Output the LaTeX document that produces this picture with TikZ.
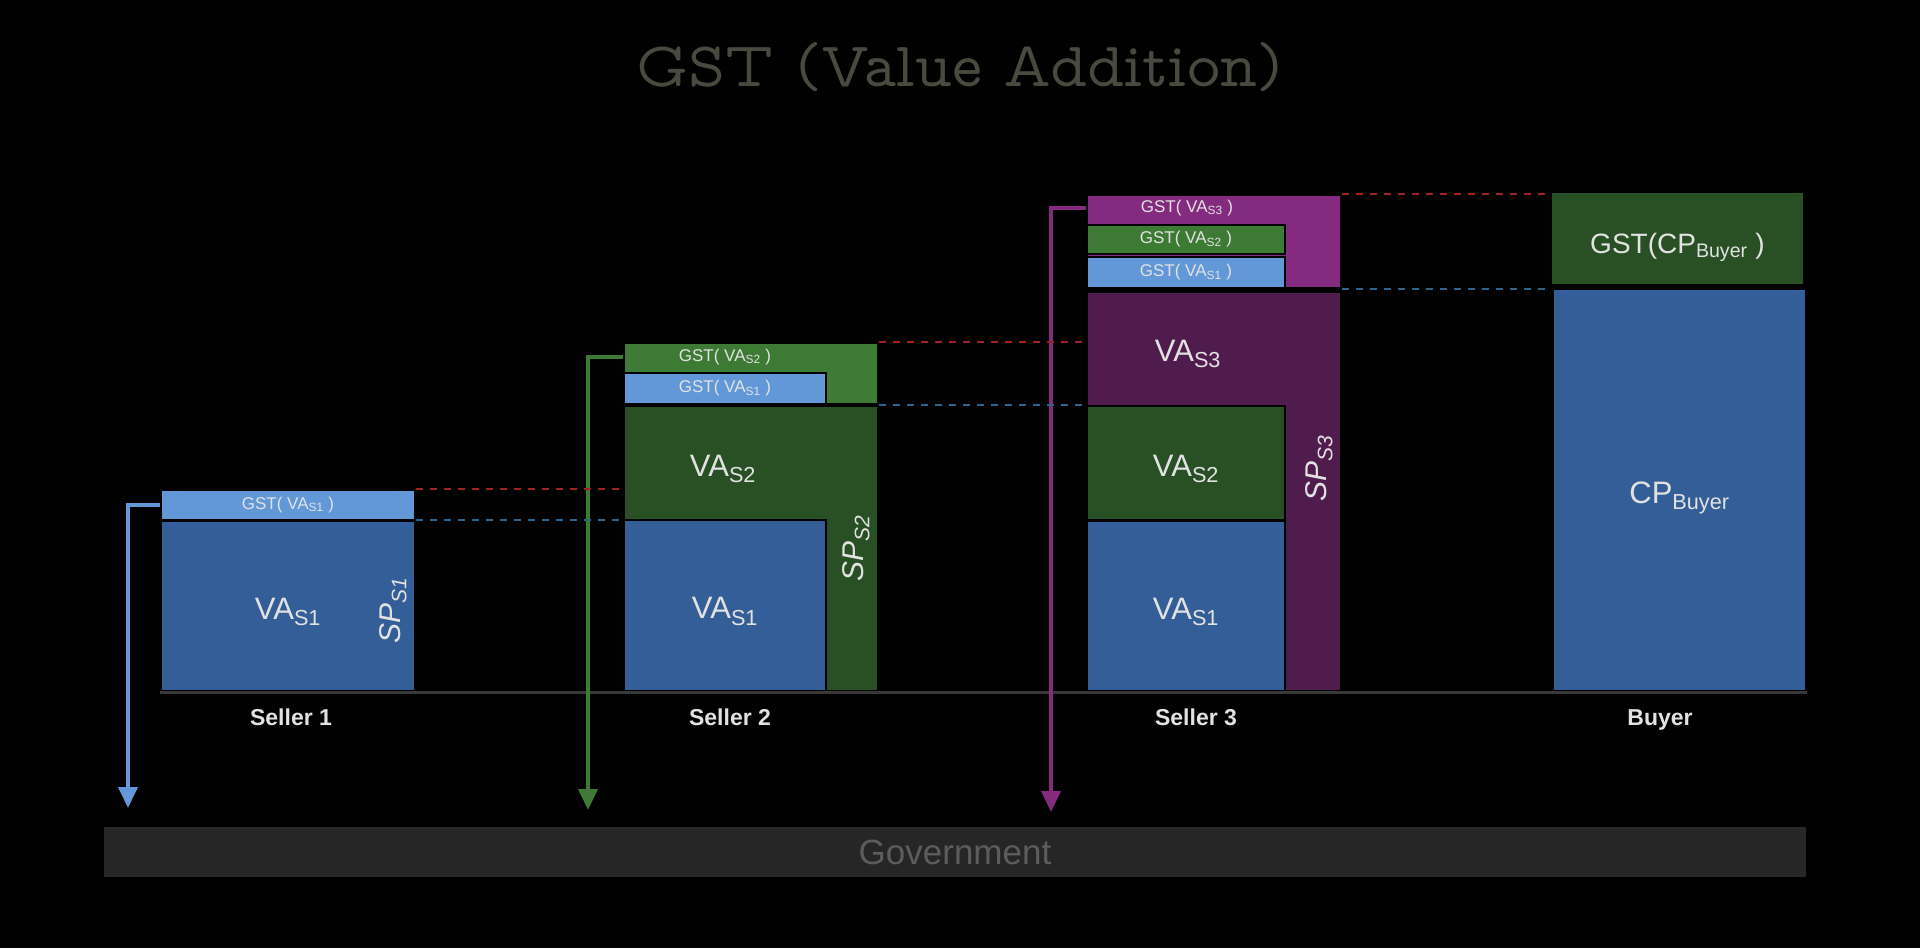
\documentclass[tikz,border=0pt]{standalone}
\usepackage{fontspec}
\setmainfont{Liberation Sans}
\newfontfamily\titlefont{lmmonoprop10-regular.otf}
\usetikzlibrary{arrows.meta}
\definecolor{vablue}{HTML}{335E97}
\definecolor{gstblue}{HTML}{6298D8}
\definecolor{vagreen}{HTML}{285024}
\definecolor{gstgreen}{HTML}{3D7B35}
\definecolor{vapurple}{HTML}{501C4D}
\definecolor{gstpurple}{HTML}{842B80}
\definecolor{txt}{HTML}{E2E2E2}
\definecolor{reddash}{HTML}{A02222}
\definecolor{bluedash}{HTML}{2D6591}
\definecolor{ground}{HTML}{383838}
\definecolor{govfill}{HTML}{262626}
\definecolor{govtxt}{HTML}{5C5C5C}
\definecolor{titlecol}{HTML}{4A493F}

\begin{document}
\begin{tikzpicture}[x=1pt, y=-1pt, >={Triangle[width=19pt,length=21pt]},
  box/.style={draw=black, line width=2pt, anchor=north west, inner sep=0pt},
  bigtxt/.style={text=txt, font=\fontsize{31}{36}\selectfont, text height=26pt, text depth=0pt},
  smalltxt/.style={text=txt, font=\fontsize{17}{20}\selectfont},
  sptxt/.style={text=txt, rotate=90, font=\fontsize{30}{34}\selectfont\itshape},
  lbl/.style={text=txt, anchor=base, font=\fontsize{23}{26}\selectfont\bfseries},
  payline/.style={line width=4pt, ->},
  gstdash/.style={draw=reddash, line width=2pt, dash pattern=on 7pt off 7pt},
  cpdash/.style={draw=bluedash, line width=2pt, dash pattern=on 7pt off 7pt}]
\fill[black] (0,0) rectangle (1920,948);
\useasboundingbox (0,0) rectangle (1920,948);

\node[font=\titlefont\fontsize{63.5}{68}\selectfont, text=titlecol, anchor=base] (title) at (960,86) {GST (Value Addition)};

% seller 1
\node[box, fill=gstblue, minimum width=254, minimum height=30, smalltxt] (gst11) at (160,489) {GST( VA\textsubscript{S1} )};
\node[box, fill=vablue, minimum width=254, minimum height=170, bigtxt] (va11) at (160,520) {VA\textsubscript{S1}};
\node[sptxt] (sp1) at (393,610) {SP\textsubscript{S1}};

% seller 2
\node[box, fill=vagreen, minimum width=254, minimum height=285] (sp2bg) at (623,405) {};
\node[box, fill=vablue, minimum width=202, minimum height=171, bigtxt] (va21) at (623,519) {VA\textsubscript{S1}};
\node[box, fill=gstgreen, minimum width=254, minimum height=61] (gst22bg) at (623,342) {};
\node[box, fill=gstblue, minimum width=202, minimum height=31, smalltxt] (gst21) at (623,372) {GST( VA\textsubscript{S1} )};
\node[smalltxt] (lgst22) at (725,357) {GST( VA\textsubscript{S2} )};
\node[bigtxt] (va22) at (723,463) {VA\textsubscript{S2}};
\node[sptxt] (sp2) at (856,548) {SP\textsubscript{S2}};

% seller 3
\node[box, fill=vapurple, minimum width=254, minimum height=399] (sp3bg) at (1086,291) {};
\node[box, fill=vagreen, minimum width=198, minimum height=114, bigtxt] (va32) at (1086,405) {VA\textsubscript{S2}};
\node[box, fill=vablue, minimum width=198, minimum height=170, bigtxt] (va31) at (1086,520) {VA\textsubscript{S1}};
\node[box, fill=gstpurple, minimum width=254, minimum height=93] (gst33bg) at (1086,194) {};
\node[box, fill=gstgreen, minimum width=198, minimum height=29, smalltxt] (gst32) at (1086,224) {GST( VA\textsubscript{S2} )};
\node[box, fill=gstblue, minimum width=198, minimum height=31, smalltxt] (gst31) at (1086,256) {GST( VA\textsubscript{S1} )};
\node[smalltxt] (lgst33) at (1187,208) {GST( VA\textsubscript{S3} )};
\node[bigtxt] (va33) at (1188,348) {VA\textsubscript{S3}};
\node[sptxt] (sp3) at (1319,468) {SP\textsubscript{S3}};

% buyer
\node[box, fill=vagreen, minimum width=253, minimum height=93, text=txt, font=\fontsize{28}{32}\selectfont, text height=29pt, text depth=0pt] (gstb) at (1550,191) {GST(CP\textsubscript{Buyer} )};
\node[box, fill=vablue, minimum width=253, minimum height=402, bigtxt] (cpb) at (1552,288) {CP\textsubscript{Buyer}};

\draw[ground, line width=3pt] (va11.south west) -- (cpb.south east);

\node[lbl] (s1) at (291,725) {Seller 1};
\node[lbl] (s2) at (730,725) {Seller 2};
\node[lbl] (s3) at (1196,725) {Seller 3};
\node[lbl] (buyer) at (1660,725) {Buyer};

% government
\node[box, draw=none, fill=govfill, minimum width=1702, minimum height=50, text=govtxt, font=\fontsize{35}{40}\selectfont] (gov) at (103,826) {Government};

% tax paid
\coordinate (t1) at (128,808);
\coordinate (t2) at (588,810);
\coordinate (t3) at (1051,812);
\draw[payline, gstblue] (gst11.west) -| (t1);
\draw[payline, gstgreen] (gst22bg.west |- lgst22) -| (t2);
\draw[payline, gstpurple] (gst33bg.west |- lgst33) -| (t3);

% levels
\draw[gstdash] (gst11.north east) -- (gst11.north east -| sp2bg.west);
\draw[cpdash] (va11.north east) -- (va11.north east -| sp2bg.west);
\draw[gstdash] (gst22bg.north east) -- (gst22bg.north east -| sp3bg.west);
\draw[cpdash] (sp2bg.north east) -- (sp2bg.north east -| sp3bg.west);
\draw[gstdash] (gst33bg.north east) -- (gst33bg.north east -| gstb.west);
\draw[cpdash] (gst33bg.south east) -- (gst33bg.south east -| cpb.west);
\end{tikzpicture}
\end{document}
